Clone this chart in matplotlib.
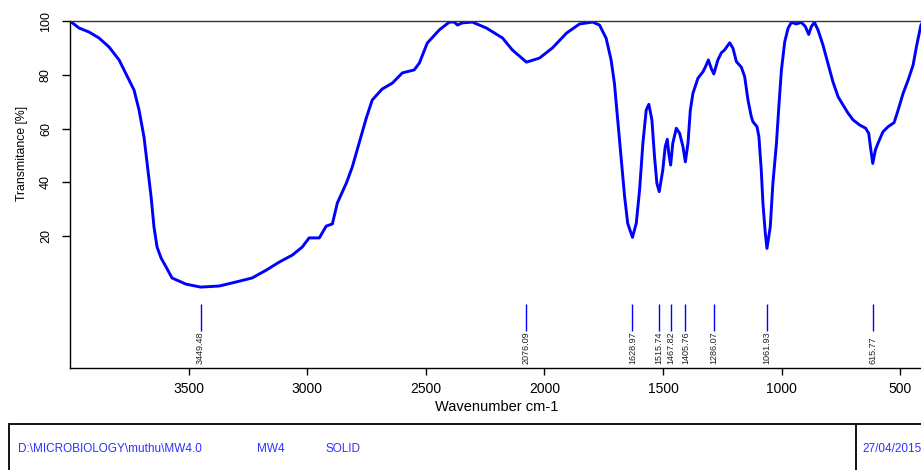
import matplotlib
matplotlib.use("Agg")
import matplotlib.pyplot as plt
from matplotlib.patches import Rectangle
from matplotlib.lines import Line2D

plt.rcParams["font.family"] = ["Liberation Sans", "DejaVu Sans"]

# spectrum (wavenumber cm-1, transmittance %)
wavenumber = [
    4000, 3962, 3920, 3878, 3835, 3793, 3751, 3730, 3709, 3688, 3675, 3658,
    3646, 3633, 3616, 3595, 3570, 3511, 3449, 3371, 3300, 3232,
    3173, 3118, 3063, 3021, 2992, 2949, 2920, 2894, 2873, 2835,
    2810, 2781, 2751, 2726, 2684, 2641, 2599, 2549, 2527, 2494,
    2443, 2401, 2380, 2367, 2346, 2304, 2245, 2177, 2135, 2076,
    2021, 1966, 1907, 1852, 1797, 1768, 1740, 1719, 1705, 1691,
    1676, 1662, 1649, 1629, 1613, 1599, 1585, 1571, 1560, 1547,
    1536, 1526, 1516, 1501, 1491, 1482, 1476, 1468, 1459, 1444,
    1430, 1416, 1406, 1395, 1385, 1374, 1353, 1332, 1321, 1309,
    1297, 1286, 1269, 1254, 1241, 1219, 1205, 1191, 1170, 1156,
    1142, 1128, 1121, 1104, 1096, 1086, 1079, 1069, 1062, 1048,
    1037, 1022, 1011, 1001, 987, 973, 959, 938, 917, 900,
    886, 875, 862, 847, 826, 805, 784, 762, 741, 720,
    699, 671, 646, 633, 624, 616, 605, 594, 573, 551,
    526, 509, 488, 467, 446, 432, 413, 400,
]
transmittance = [
    100, 97.4, 95.9, 93.7, 90.3, 85.5, 78, 74.3, 66.9, 56.8, 47.2, 34.5,
    23.4, 15.9, 11.8, 8.5, 4.4, 2.1, 1.0, 1.4, 2.9, 4.4,
    7.3, 10.3, 12.9, 15.9, 19.3, 19.3, 23.7, 24.5, 32.3, 39.7,
    45.7, 54.6, 63.9, 70.6, 74.7, 76.9, 80.7, 81.8, 84.4, 91.8,
    96.7, 99.6, 99.6, 98.5, 99.3, 99.6, 97.4, 93.7, 89.2, 84.7,
    86.2, 90, 95.5, 98.9, 99.6, 98.5, 93.6, 85.5, 76.8, 63.2,
    48.3, 34.6, 24.7, 19.5, 24.7, 37.1, 54.5, 66.9, 69, 63.2,
    49.5, 39.6, 36.5, 44.6, 53.2, 56, 50.8, 46.4, 54.5, 60.1,
    58.2, 53.2, 47.6, 54.5, 66.9, 73.1, 78.7, 81.1, 83, 85.5,
    82.4, 80.3, 85.5, 88.2, 89.2, 91.9, 89.8, 84.9, 82.8, 79.3,
    70.6, 64.4, 62.5, 60.7, 57, 44.6, 32.2, 21, 15.4, 23.5,
    39.6, 54.5, 69.4, 81.8, 92.3, 97.3, 99.5, 98.9, 99.5, 97.9,
    95, 97.9, 99.5, 96.7, 91.1, 84.3, 77.4, 71.8, 68.7, 65.7,
    63.2, 61.3, 60.1, 58.2, 52, 47, 52, 54.5, 58.8, 60.7,
    62.2, 66.9, 73.1, 78, 83.6, 90.4, 98.5, 100,
]

peaks = [3449.48, 2076.09, 1628.97, 1515.74, 1467.82, 1405.76, 1286.07, 1061.93, 615.77]

x_ticks = [3500, 3000, 2500, 2000, 1500, 1000, 500]
y_ticks = [20, 40, 60, 80, 100]

footer_path = "D:\\MICROBIOLOGY\\muthu\\MW4.0"
footer_sample = "MW4"
footer_state = "SOLID"
footer_date = "27/04/2015"

W, H = 921, 470
fig = plt.figure(figsize=(W / 100, H / 100), dpi=100)
ax = fig.add_axes([70 / W, 1 - 368 / H, (924 - 70) / W, (368 - 21) / H])

ax.plot(wavenumber, transmittance, color="#0000ff", lw=2.1, solid_joinstyle="round")

# peak markers below the curve
ax.vlines(peaks, -15.3, -5.3, color="#0000ff", lw=1.0)
for p in peaks:
    ax.text(p, -27.6, f"{p:.2f}", rotation=90, ha="center", va="bottom",
            fontsize=6.5, color="#222222")

ax.set_xlim(4000, 400)
ax.set_ylim(-29.1, 100)
ax.set_xticks(x_ticks)
ax.set_yticks(y_ticks)

ax.spines["right"].set_visible(False)
ax.spines["top"].set_color("#333333")
for s in ("left", "bottom", "top"):
    ax.spines[s].set_linewidth(1.0)

ax.tick_params(axis="x", direction="out", length=5, width=1, labelsize=10, pad=5)
ax.tick_params(axis="y", direction="out", length=6, width=1, labelsize=9, pad=7)
for lbl in ax.get_yticklabels():
    lbl.set_rotation(90)
    lbl.set_va("center")

ax.set_xlabel("Wavenumber cm-1", fontsize=10.5, labelpad=3)
ax.set_ylabel("Transmitance [%]", fontsize=8.8)
ax.yaxis.set_label_coords(-0.049, 0.618)

# footer box
box_top = 1 - 424 / H
fig.add_artist(Rectangle((9 / W, -0.1), 1.0, box_top + 0.1,
                         transform=fig.transFigure, fill=False, lw=1.3, color="black"))
fig.add_artist(Line2D([856 / W, 856 / W], [0, box_top],
                      transform=fig.transFigure, lw=1.3, color="black"))
fy = 1 - 449 / H
blue = "#3030ff"
fig.text(18 / W, fy, footer_path, fontsize=8.5, color=blue, va="center")
fig.text(257 / W, fy, footer_sample, fontsize=8.5, color=blue, va="center")
fig.text(325 / W, fy, footer_state, fontsize=8.5, color=blue, va="center")
fig.text(862 / W, fy, footer_date, fontsize=8.5, color=blue, va="center")

fig.savefig("out.png", dpi=100)
